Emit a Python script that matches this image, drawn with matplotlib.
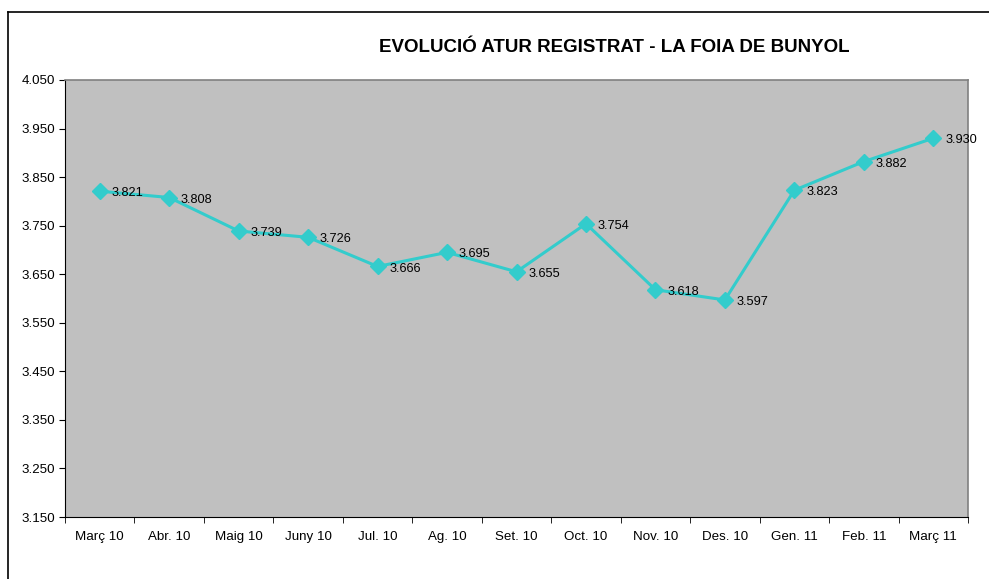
import numpy as np
import matplotlib
matplotlib.use('Agg')
import matplotlib.pyplot as plt
from matplotlib.lines import Line2D

plt.rcParams['font.family'] = ['Liberation Sans', 'DejaVu Sans']

months = ['Març 10', 'Abr. 10', 'Maig 10', 'Juny 10', 'Jul. 10', 'Ag. 10', 'Set. 10',
          'Oct. 10', 'Nov. 10', 'Des. 10', 'Gen. 11', 'Feb. 11', 'Març 11']
atur = [3821, 3808, 3739, 3726, 3666, 3695, 3655, 3754, 3618, 3597, 3823, 3882, 3930]
yticks = [3150, 3250, 3350, 3450, 3550, 3650, 3750, 3850, 3950, 4050]

def fmt(v):
    # thousands with a dot, like the original sheet
    return '{:,}'.format(v).replace(',', '.')

fig = plt.figure(figsize=(9.89, 5.79), dpi=100)
ax = fig.add_axes([65/989, 1-517/579, (968-65)/989, (517-80)/579])
ax.set_facecolor('#c0c0c0')

x = np.arange(len(months))
ax.plot(x, atur, color='#33cccc', lw=2.2, marker='D', ms=8, zorder=3)
for xi, v in zip(x, atur):
    ax.annotate(fmt(v), (xi, v), xytext=(8.5, -1.5), textcoords='offset points',
                fontsize=9.2, va='center', ha='left', zorder=4)

ax.set_xlim(-0.5, len(months)-0.5)
ax.set_ylim(3150, 4050)
ax.set_yticks(yticks)
ax.set_yticklabels([fmt(v) for v in yticks])
ax.set_xticks(x)
ax.set_xticklabels(months)
ax.set_xticks(np.arange(-0.5, len(months)), minor=True)
ax.tick_params(axis='x', which='major', length=0, pad=10, labelsize=9.6)
ax.tick_params(axis='x', which='minor', length=4, direction='out')
ax.tick_params(axis='y', length=4, direction='out', labelsize=9.6, pad=3)

ax.spines['top'].set_color('#808080')
ax.spines['right'].set_color('#808080')
ax.spines['top'].set_linewidth(1.2)
ax.spines['right'].set_linewidth(1.2)

fig.text(614/989, 1-47/579, 'EVOLUCIÓ ATUR REGISTRAT - LA FOIA DE BUNYOL',
         ha='center', va='center', fontsize=13.5, fontweight='bold')

# outer frame, only left and top are visible in the crop
fig.add_artist(Line2D([8/989, 8/989], [0, 1-12/579], color='black', lw=1.2, transform=fig.transFigure))
fig.add_artist(Line2D([8/989, 1], [1-12/579, 1-12/579], color='black', lw=1.2, transform=fig.transFigure))

fig.savefig('out.png', dpi=100)
